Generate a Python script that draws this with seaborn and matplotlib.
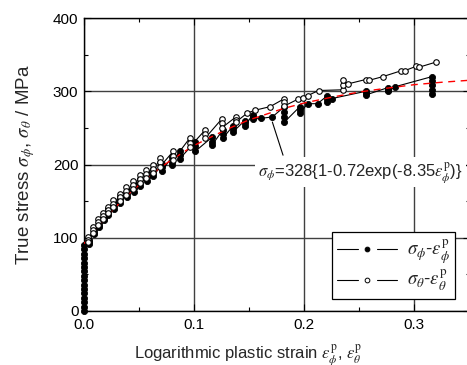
import numpy as np
import pandas as pd
import matplotlib
matplotlib.use("Agg")
import matplotlib.pyplot as plt
from matplotlib.lines import Line2D
from matplotlib.legend_handler import HandlerBase
from matplotlib.ticker import MultipleLocator
import seaborn as sns

# sigma_phi - eps_phi (filled); repeated strains = relaxation drops
eps_phi = [0, 0, 0, 0, 0, 0, 0, 0, 0, 0, 0, 0, 0, 0, 0, 0,
           0.0045, 0.0045, 0.0045, 0.009, 0.009, 0.009, 0.0135, 0.0135, 0.0135,
           0.018, 0.018, 0.018, 0.022, 0.022, 0.022, 0.027, 0.027, 0.027,
           0.033, 0.033, 0.033, 0.039, 0.039, 0.039, 0.045, 0.045, 0.045,
           0.051, 0.051, 0.051, 0.057, 0.057, 0.057, 0.063, 0.063, 0.063,
           0.071, 0.071, 0.071, 0.0795, 0.0795, 0.0795, 0.087, 0.087, 0.087,
           0.101, 0.101, 0.101, 0.116, 0.116, 0.116, 0.126, 0.126, 0.126,
           0.135, 0.135, 0.135, 0.146, 0.146, 0.146, 0.153, 0.153, 0.153,
           0.161, 0.171, 0.182, 0.182, 0.182, 0.182, 0.196, 0.196, 0.196,
           0.203, 0.212, 0.221, 0.221, 0.221, 0.225,
           0.256, 0.256, 0.256, 0.276, 0.276, 0.276, 0.282,
           0.316, 0.316, 0.316, 0.316, 0.316]
sig_phi = [0, 6, 12, 18, 24, 30, 36, 42, 48, 54, 60, 66, 72, 78, 84, 90,
           97, 94, 92, 112, 108, 105, 122, 118, 115,
           131, 127, 124, 139, 135, 131, 147, 143, 139,
           156, 151, 147, 165, 160, 155, 173, 168, 163,
           180, 175, 171, 188, 183, 178, 194, 189, 184,
           201, 196, 191, 210, 204, 199, 219, 213, 208,
           231, 225, 218, 237, 231, 226, 247, 241, 236,
           252, 248, 244, 260, 256, 252, 268, 265, 262,
           263, 265, 279, 272, 265, 258, 279, 275, 270,
           283, 283, 294, 289, 285, 290,
           300, 297, 295, 305, 302, 300, 306,
           320, 314, 308, 302, 296]

# sigma_theta - eps_theta (open)
eps_theta = [0.004, 0.004, 0.004, 0.0085, 0.0085, 0.0085, 0.013, 0.013, 0.013,
             0.0175, 0.0175, 0.0175, 0.0215, 0.0215, 0.0215, 0.0265, 0.0265, 0.0265,
             0.0325, 0.0325, 0.0325, 0.0385, 0.0385, 0.0385, 0.0445, 0.0445, 0.0445,
             0.0505, 0.0505, 0.0505, 0.0565, 0.0565, 0.0565, 0.0625, 0.0625, 0.0625,
             0.069, 0.069, 0.069, 0.081, 0.081, 0.081, 0.096, 0.096, 0.096,
             0.110, 0.110, 0.110, 0.125, 0.125, 0.125, 0.138, 0.138, 0.138,
             0.148, 0.155, 0.169, 0.182, 0.182, 0.182, 0.194, 0.1985, 0.203, 0.213,
             0.235, 0.235, 0.235, 0.2395, 0.2557, 0.259, 0.2714, 0.288, 0.291,
             0.3015, 0.3046, 0.320]
sig_theta = [101, 97, 94, 115, 111, 107, 125, 121, 117,
             134, 130, 126, 142, 138, 134, 151, 146, 142,
             160, 155, 150, 169, 164, 159, 177, 172, 167,
             185, 180, 175, 193, 187, 182, 199, 194, 189,
             209, 203, 197, 218, 212, 206, 236, 230, 224,
             247, 241, 236, 262, 256, 250, 265, 261, 258,
             270, 274, 279, 290, 285, 280, 289, 291, 294, 301,
             302, 308, 315, 310, 316, 315, 320, 328, 328,
             334, 333, 340]

# red dashed fit, sigma_phi = 328{1-0.72exp(-8.35 eps)}
eps_fit = [0, 0.005, 0.01, 0.015, 0.02, 0.025, 0.03, 0.04, 0.05, 0.06, 0.07, 0.08,
           0.09, 0.10, 0.12, 0.135, 0.15, 0.165, 0.18, 0.20, 0.225, 0.25, 0.275,
           0.30, 0.325, 0.35]
sig_fit = [92, 101.5, 111, 119.6, 128, 136.3, 144, 159, 172, 185, 196.4, 207,
           216.6, 226, 241, 251.5, 261, 268.4, 276, 284, 291.9, 299, 304.2,
           309, 312.3, 315]

xticks = [0.0, 0.1, 0.2, 0.3]
xticklabels = ["0.0", "0.1", "0.2", "0.3"]
yticks = [0, 100, 200, 300, 400]


# legend entry drawn as "—  o  —": line broken around the marker
class HandlerGapLine(HandlerBase):
    def create_artists(self, legend, orig_handle, xdescent, ydescent,
                       width, height, fontsize, trans):
        y = height / 2 - ydescent
        x0 = -xdescent
        x1 = x0 + width
        xc = (x0 + x1) / 2
        g = 0.16 * width
        left = Line2D([x0, xc - g], [y, y], color="black", lw=0.8)
        right = Line2D([xc + g, x1], [y, y], color="black", lw=0.8)
        mark = Line2D([xc], [y], ls="none", marker="o",
                      ms=orig_handle.get_markersize(),
                      mfc=orig_handle.get_markerfacecolor(),
                      mec=orig_handle.get_markeredgecolor(),
                      mew=orig_handle.get_markeredgewidth())
        for a in (left, right, mark):
            a.set_transform(trans)
        return [left, right, mark]


sns.set_style("ticks")
plt.rcParams["font.family"] = ["Liberation Sans", "DejaVu Sans"]
plt.rcParams["mathtext.fontset"] = "stix"

fig = plt.figure(figsize=(4.67, 3.65), dpi=100)
ax = fig.add_axes([84 / 467, 54 / 365, 385.5 / 467, 293 / 365])

phi = pd.DataFrame({"eps": eps_phi, "sig": sig_phi})
theta = pd.DataFrame({"eps": eps_theta, "sig": sig_theta})
fit = pd.DataFrame({"eps": eps_fit, "sig": sig_fit})

sns.lineplot(data=phi, x="eps", y="sig", sort=False, estimator=None, ax=ax,
             color="black", lw=0.8, marker="o", markersize=4.4,
             markerfacecolor="black", markeredgecolor="black", markeredgewidth=0.6,
             zorder=3, clip_on=False)
sns.lineplot(data=fit, x="eps", y="sig", sort=False, estimator=None, ax=ax,
             color="red", lw=1.0, zorder=4)
ax.lines[-1].set_linestyle((0, (5, 4)))
sns.lineplot(data=theta, x="eps", y="sig", sort=False, estimator=None, ax=ax,
             color="black", lw=0.8, marker="o", markersize=4.0,
             markerfacecolor="white", markeredgecolor="black", markeredgewidth=0.8,
             zorder=5)

ax.set_xlim(0, 0.35)
ax.set_ylim(0, 400)
ax.set_xticks(xticks)
ax.set_xticklabels(xticklabels)
ax.set_yticks(yticks)
ax.xaxis.set_minor_locator(MultipleLocator(0.05))
ax.yaxis.set_minor_locator(MultipleLocator(50))
ax.tick_params(which="both", direction="in", top=True, right=True,
               labelsize=11, colors="black", width=0.8)
ax.tick_params(which="major", length=5)
ax.tick_params(axis="x", which="major", pad=5)
ax.tick_params(axis="y", which="major", pad=4)
ax.tick_params(which="minor", length=3)
ax.grid(which="major", color="0.25", lw=1.0)
for s in ax.spines.values():
    s.set_color("black")
    s.set_linewidth(1.0)

ax.set_xlabel(r"Logarithmic plastic strain $\varepsilon_\phi^{\rm p}$, $\varepsilon_\theta^{\rm p}$",
              fontsize=12)
ax.set_ylabel(r"True stress $\sigma_\phi$, $\sigma_\theta$ / MPa", fontsize=13.5)
ax.xaxis.label.set_va("center")
ax.yaxis.label.set_va("center")
ax.xaxis.set_label_coords(0.4254, -0.147)
ax.yaxis.set_label_coords(-0.152, 0.498)

# fit equation with leader line
ax.plot([0.1807, 0.171], [212.7, 258], color="black", lw=0.8, zorder=6)
ax.text(0.158, 189.6, r"$\sigma_\phi$=328{1-0.72exp(-8.35$\varepsilon_\phi^{\rm p}$)}",
        fontsize=12, ha="left", va="center", zorder=6,
        bbox=dict(facecolor="white", edgecolor="none", pad=2))

m_full = Line2D([], [], ls="none", marker="o", ms=3.4, mfc="black", mec="black", mew=0.7)
m_open = Line2D([], [], ls="none", marker="o", ms=3.4, mfc="white", mec="black", mew=0.7)
leg = ax.legend([m_full, m_open],
                [r"$\sigma_\phi$-$\varepsilon_\phi^{\rm p}$",
                 r"$\sigma_\theta$-$\varepsilon_\theta^{\rm p}$"],
                handler_map={m_full: HandlerGapLine(), m_open: HandlerGapLine()},
                loc="upper left", bbox_to_anchor=(0.6425, 0.2686), borderaxespad=0,
                fontsize=13.5, handlelength=3.2, handletextpad=0.5, labelspacing=0.1,
                borderpad=0.3, fancybox=False, framealpha=1, edgecolor="black")
leg.get_frame().set_linewidth(0.9)
leg.set_zorder(10)

fig.savefig("out.png", dpi=100)
